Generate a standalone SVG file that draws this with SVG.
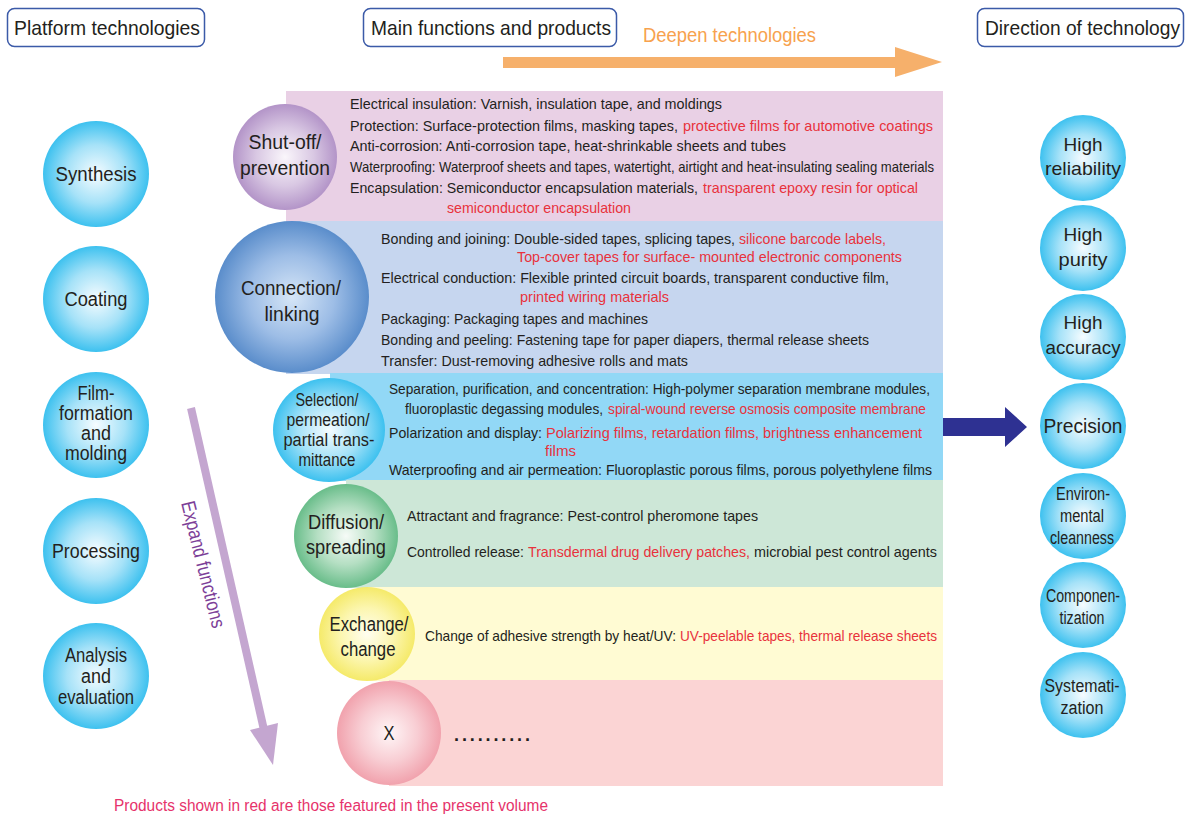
<svg xmlns="http://www.w3.org/2000/svg" width="1186" height="814" viewBox="0 0 1186 814">
<defs>
<radialGradient id="gCyan" cx="50%" cy="50%" r="50%"><stop offset="0" stop-color="#f6fcff"/><stop offset="0.55" stop-color="#a6e2f8"/><stop offset="1" stop-color="#3dc1ef"/></radialGradient>
<radialGradient id="gPurple" cx="50%" cy="50%" r="50%"><stop offset="0" stop-color="#faf6fb"/><stop offset="0.55" stop-color="#d9c8e3"/><stop offset="1" stop-color="#b394c8"/></radialGradient>
<radialGradient id="gBlue" cx="50%" cy="50%" r="50%"><stop offset="0" stop-color="#d6e6f7"/><stop offset="0.55" stop-color="#9dbde6"/><stop offset="1" stop-color="#5a8dcb"/></radialGradient>
<radialGradient id="gGreen" cx="50%" cy="50%" r="50%"><stop offset="0" stop-color="#f6fbf7"/><stop offset="0.55" stop-color="#b5dfc3"/><stop offset="1" stop-color="#69bd8a"/></radialGradient>
<radialGradient id="gYellow" cx="50%" cy="50%" r="50%"><stop offset="0" stop-color="#fffef0"/><stop offset="0.55" stop-color="#fcf6b0"/><stop offset="1" stop-color="#f5ea6a"/></radialGradient>
<radialGradient id="gPink" cx="50%" cy="50%" r="50%"><stop offset="0" stop-color="#fff6f7"/><stop offset="0.55" stop-color="#f8cdd3"/><stop offset="1" stop-color="#f1a2ad"/></radialGradient>
<style>
.f{font-family:"Liberation Sans Narrow","Liberation Sans",Arial,sans-serif;fill:#231f20}
.t{font-size:15px}
.r{fill:#e8323c}
.h{font-size:21px}
.c{font-size:20px;text-anchor:middle}
.cr{font-size:19px;text-anchor:middle}
.cs{font-size:18px;text-anchor:middle}
.box{fill:#fff;stroke:#3b5aa8;stroke-width:1.5}
</style>
</defs>
<rect width="1186" height="814" fill="#fff"/>

<!-- headers -->
<g id="hdr-platform"><rect class="box" x="7.5" y="8.5" width="197" height="38" rx="7"/><text class="f h" x="14" y="35" textLength="186" lengthAdjust="spacingAndGlyphs">Platform technologies</text></g>
<g id="hdr-main"><rect class="box" x="363.5" y="8.5" width="253" height="38" rx="7"/><text class="f h" x="371" y="35" textLength="240" lengthAdjust="spacingAndGlyphs">Main functions and products</text></g>
<g id="hdr-direction"><rect class="box" x="977.5" y="8.5" width="206" height="38" rx="7"/><text class="f" font-size="19.5" x="985" y="35" textLength="195" lengthAdjust="spacingAndGlyphs">Direction of technology</text></g>

<!-- bands -->
<g id="bands">
<rect x="286" y="91" width="657" height="131" fill="#e9d0e5"/>
<rect x="286" y="221" width="657" height="153" fill="#c6d6ef"/>
<rect x="330" y="373" width="613" height="108" fill="#92d8f6"/>
<rect x="346" y="480" width="597" height="108" fill="#cde7d7"/>
<rect x="367" y="587" width="576" height="94" fill="#fffbd3"/>
<rect x="389" y="680" width="554" height="106" fill="#fbd4d4"/>
</g>

<!-- connectors -->
<g id="connectors">
<polygon points="503,57 895,57 895,47 942,62 895,77 895,68 503,68" fill="#f6b06b"/>
<polygon points="943,418 1005,418 1005,407 1027,427 1005,447 1005,436 943,436" fill="#2e3192"/>
<line x1="191" y1="408" x2="264" y2="730" stroke="#c4a6d0" stroke-width="8"/>
<polygon points="250,730 278,723 273,765" fill="#c4a6d0"/>
</g>
<text class="f" x="643" y="42" font-size="21" textLength="173" lengthAdjust="spacingAndGlyphs" style="fill:#f7a24e">Deepen technologies</text>
<text class="f" transform="translate(181,503) rotate(76)" font-size="20" textLength="130" lengthAdjust="spacingAndGlyphs" style="fill:#7d3f98">Expand functions</text>

<!-- left platform circles -->
<g id="synthesis"><circle cx="96" cy="174" r="53" fill="url(#gCyan)"/><text class="f c" x="96" y="181" textLength="81" lengthAdjust="spacingAndGlyphs">Synthesis</text></g>
<g id="coating"><circle cx="96" cy="299" r="53" fill="url(#gCyan)"/><text class="f c" x="96" y="306" textLength="63" lengthAdjust="spacingAndGlyphs">Coating</text></g>
<g id="film"><circle cx="96" cy="425" r="53" fill="url(#gCyan)"/><text class="f c" x="96" y="400" textLength="37" lengthAdjust="spacingAndGlyphs">Film-</text><text class="f c" x="96" y="420" textLength="74" lengthAdjust="spacingAndGlyphs">formation</text><text class="f c" x="96" y="440" textLength="30" lengthAdjust="spacingAndGlyphs">and</text><text class="f c" x="96" y="460" textLength="62" lengthAdjust="spacingAndGlyphs">molding</text></g>
<g id="processing"><circle cx="96" cy="551" r="53" fill="url(#gCyan)"/><text class="f c" x="96" y="558" textLength="88" lengthAdjust="spacingAndGlyphs">Processing</text></g>
<g id="analysis"><circle cx="96" cy="676" r="53" fill="url(#gCyan)"/><text class="f c" x="96" y="662" textLength="62" lengthAdjust="spacingAndGlyphs">Analysis</text><text class="f c" x="96" y="683" textLength="30" lengthAdjust="spacingAndGlyphs">and</text><text class="f c" x="96" y="704" textLength="76" lengthAdjust="spacingAndGlyphs">evaluation</text></g>

<!-- function circles -->
<g id="shutoff"><ellipse cx="285" cy="157" rx="52" ry="53" fill="url(#gPurple)"/><text class="f c" x="285" y="149" textLength="73" lengthAdjust="spacingAndGlyphs">Shut-off/</text><text class="f c" x="285" y="175" textLength="90" lengthAdjust="spacingAndGlyphs">prevention</text></g>
<g id="connection"><ellipse cx="292" cy="297" rx="77" ry="76" fill="url(#gBlue)"/><text class="f c" x="291" y="295" textLength="100" lengthAdjust="spacingAndGlyphs">Connection/</text><text class="f c" x="292" y="321" textLength="55" lengthAdjust="spacingAndGlyphs">linking</text></g>
<g id="selection"><ellipse cx="329" cy="430" rx="56" ry="52" fill="url(#gCyan)"/><text class="f cs" x="327" y="406" textLength="63" lengthAdjust="spacingAndGlyphs">Selection/</text><text class="f cs" x="328" y="426" textLength="83" lengthAdjust="spacingAndGlyphs">permeation/</text><text class="f cs" x="329" y="446" textLength="91" lengthAdjust="spacingAndGlyphs">partial trans-</text><text class="f cs" x="327" y="466" textLength="57" lengthAdjust="spacingAndGlyphs">mittance</text></g>
<g id="diffusion"><ellipse cx="346" cy="536" rx="52" ry="52" fill="url(#gGreen)"/><text class="f c" x="346" y="529" textLength="76" lengthAdjust="spacingAndGlyphs">Diffusion/</text><text class="f c" x="346" y="554" textLength="80" lengthAdjust="spacingAndGlyphs">spreading</text></g>
<g id="exchange"><ellipse cx="367" cy="634" rx="48" ry="47" fill="url(#gYellow)"/><text class="f c" x="369" y="631" textLength="79" lengthAdjust="spacingAndGlyphs">Exchange/</text><text class="f c" x="368" y="656" textLength="55" lengthAdjust="spacingAndGlyphs">change</text></g>
<g id="x"><ellipse cx="389" cy="733" rx="52" ry="52" fill="url(#gPink)"/><text class="f c" x="389" y="740" textLength="11" lengthAdjust="spacingAndGlyphs">X</text><text class="f" x="454" y="741" font-size="18" font-weight="bold" textLength="76" lengthAdjust="spacing">..........</text></g>

<!-- band texts -->
<g id="txt-shutoff" class="f t">
<text x="350" y="109" textLength="372" lengthAdjust="spacingAndGlyphs">Electrical insulation: Varnish, insulation tape, and moldings</text>
<text x="350" y="131" textLength="328" lengthAdjust="spacingAndGlyphs">Protection: Surface-protection films, masking tapes,</text>
<text x="683" y="131" class="r" textLength="250" lengthAdjust="spacingAndGlyphs">protective films for automotive coatings</text>
<text x="350" y="151" textLength="436" lengthAdjust="spacingAndGlyphs">Anti-corrosion: Anti-corrosion tape, heat-shrinkable sheets and tubes</text>
<text x="350" y="172" textLength="584" lengthAdjust="spacingAndGlyphs">Waterproofing: Waterproof sheets and tapes, watertight, airtight and heat-insulating sealing materials</text>
<text x="350" y="193" textLength="348" lengthAdjust="spacingAndGlyphs">Encapsulation: Semiconductor encapsulation materials,</text>
<text x="703" y="193" class="r" textLength="215" lengthAdjust="spacingAndGlyphs">transparent epoxy resin for optical</text>
<text x="447" y="213" class="r" textLength="184" lengthAdjust="spacingAndGlyphs">semiconductor encapsulation</text>
</g>
<g id="txt-connection" class="f t">
<text x="381" y="244" textLength="354" lengthAdjust="spacingAndGlyphs">Bonding and joining: Double-sided tapes, splicing tapes,</text>
<text x="739" y="244" class="r" textLength="147" lengthAdjust="spacingAndGlyphs">silicone barcode labels,</text>
<text x="517" y="262" class="r" textLength="385" lengthAdjust="spacingAndGlyphs">Top-cover tapes for surface- mounted electronic components</text>
<text x="381" y="283" textLength="508" lengthAdjust="spacingAndGlyphs">Electrical conduction: Flexible printed circuit boards, transparent conductive film,</text>
<text x="520" y="302" class="r" textLength="149" lengthAdjust="spacingAndGlyphs">printed wiring materials</text>
<text x="381" y="324" textLength="267" lengthAdjust="spacingAndGlyphs">Packaging: Packaging tapes and machines</text>
<text x="381" y="345" textLength="488" lengthAdjust="spacingAndGlyphs">Bonding and peeling: Fastening tape for paper diapers, thermal release sheets</text>
<text x="381" y="366" textLength="307" lengthAdjust="spacingAndGlyphs">Transfer: Dust-removing adhesive rolls and mats</text>
</g>
<g id="txt-selection" class="f t">
<text x="389" y="394" textLength="541" lengthAdjust="spacingAndGlyphs">Separation, purification, and concentration: High-polymer separation membrane modules,</text>
<text x="405" y="414" textLength="198" lengthAdjust="spacingAndGlyphs">fluoroplastic degassing modules,</text>
<text x="608" y="414" class="r" textLength="318" lengthAdjust="spacingAndGlyphs">spiral-wound reverse osmosis composite membrane</text>
<text x="389" y="438" textLength="153" lengthAdjust="spacingAndGlyphs">Polarization and display:</text>
<text x="546" y="438" class="r" textLength="376" lengthAdjust="spacingAndGlyphs">Polarizing films, retardation films,  brightness enhancement</text>
<text x="545" y="456" class="r" textLength="31" lengthAdjust="spacingAndGlyphs">films</text>
<text x="389" y="475" textLength="543" lengthAdjust="spacingAndGlyphs">Waterproofing and air permeation: Fluoroplastic porous films, porous polyethylene films</text>
</g>
<g id="txt-diffusion" class="f t">
<text x="407" y="521" textLength="351" lengthAdjust="spacingAndGlyphs">Attractant and fragrance: Pest-control pheromone tapes</text>
<text x="407" y="557" textLength="117" lengthAdjust="spacingAndGlyphs">Controlled release:</text>
<text x="528" y="557" class="r" textLength="222" lengthAdjust="spacingAndGlyphs">Transdermal drug delivery patches,</text>
<text x="754" y="557" textLength="183" lengthAdjust="spacingAndGlyphs">microbial pest control agents</text>
</g>
<g id="txt-exchange" class="f t">
<text x="425" y="641" textLength="251" lengthAdjust="spacingAndGlyphs">Change of adhesive strength by heat/UV:</text>
<text x="680" y="641" class="r" textLength="257" lengthAdjust="spacingAndGlyphs">UV-peelable tapes, thermal release sheets</text>
</g>

<!-- right direction circles -->
<g id="reliability"><circle cx="1083" cy="158" r="43" fill="url(#gCyan)"/><text class="f cr" x="1083" y="151" textLength="39" lengthAdjust="spacingAndGlyphs">High</text><text class="f cr" x="1083" y="175" textLength="76" lengthAdjust="spacingAndGlyphs">reliability</text></g>
<g id="purity"><circle cx="1083" cy="248" r="43" fill="url(#gCyan)"/><text class="f cr" x="1083" y="241" textLength="39" lengthAdjust="spacingAndGlyphs">High</text><text class="f cr" x="1083" y="266" textLength="49" lengthAdjust="spacingAndGlyphs">purity</text></g>
<g id="accuracy"><circle cx="1083" cy="337" r="43" fill="url(#gCyan)"/><text class="f cr" x="1083" y="329" textLength="39" lengthAdjust="spacingAndGlyphs">High</text><text class="f cr" x="1083" y="354" textLength="75" lengthAdjust="spacingAndGlyphs">accuracy</text></g>
<g id="precision"><circle cx="1083" cy="426" r="43" fill="url(#gCyan)"/><text class="f c" x="1083" y="433" textLength="79" lengthAdjust="spacingAndGlyphs">Precision</text></g>
<g id="environmental"><circle cx="1083" cy="516" r="43" fill="url(#gCyan)"/><text class="f cs" x="1083" y="500" textLength="54" lengthAdjust="spacingAndGlyphs">Environ-</text><text class="f cs" x="1082" y="522" textLength="44" lengthAdjust="spacingAndGlyphs">mental</text><text class="f cs" x="1082" y="544" textLength="64" lengthAdjust="spacingAndGlyphs">cleanness</text></g>
<g id="componentization"><circle cx="1083" cy="605" r="43" fill="url(#gCyan)"/><text class="f cs" x="1083" y="602" textLength="74" lengthAdjust="spacingAndGlyphs">Componen-</text><text class="f cs" x="1082" y="624" textLength="45" lengthAdjust="spacingAndGlyphs">tization</text></g>
<g id="systematization"><circle cx="1083" cy="695" r="43" fill="url(#gCyan)"/><text class="f cs" x="1082" y="692" textLength="75" lengthAdjust="spacingAndGlyphs">Systemati-</text><text class="f cs" x="1082" y="714" textLength="43" lengthAdjust="spacingAndGlyphs">zation</text></g>

<text class="f" x="114" y="811" font-size="16" textLength="434" lengthAdjust="spacingAndGlyphs" style="fill:#e6336b">Products shown in red are those featured in the present volume</text>
</svg>
